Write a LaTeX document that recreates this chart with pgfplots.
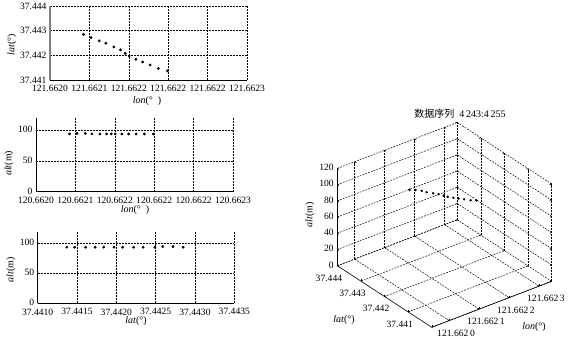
\documentclass[border=0pt]{standalone}
\usepackage{pgfplots}
\usepackage{pgfplotstable}
\pgfplotsset{compat=1.18}
\usepackage{fontspec}
\setmainfont{Liberation Serif}
\newfontfamily\cjk{Noto Sans CJK SC}

% lon: offset from 121.662 deg in 1e-5 deg; lat: offset from 37.44 deg in 1e-5 deg; alt in m
\pgfplotstableread{
lon   lat  alt
9.25  285  94
10.2  272  95
11.25 259  95
12.1  249  94
13.1  234  94
13.95 222  94
14.55 208  94
15.05 197  94
15.9  184  94
16.75 173  94
17.7  161  94
18.75 147  94
19.9  137  94
}\gpsdata

\pgfplotsset{
  panel/.style={
    scale only axis, axis lines=left,
    axis line style={-, black, line width=0.6pt},
    grid=major,
    major grid style={black, line width=0.5pt, dash pattern=on 1.8pt off 1.2pt},
    tick align=inside, major tick length=2pt, tick style={black, line width=0.5pt},
    ticklabel style={font=\fontsize{9.6}{10}\selectfont},
    xticklabel style={yshift=-1.8pt},
    /pgf/number format/assume math mode=true,
    clip=false,
  },
  dots/.style={only marks, mark=*, mark size=1.2pt, black},
}

\begin{document}
\begin{tikzpicture}
\useasboundingbox (0,0) rectangle (588pt,339pt);

% ---------- panel 1: lat vs lon ----------
\begin{axis}[panel,
  at={(50pt,259pt)}, anchor=south west, width=197pt, height=74pt,
  y axis line style={gray, line width=1.3pt},
  xmin=5, xmax=30, ymin=100, ymax=400,
  xtick={5,10,15,20,25,30},
  xticklabels={121.6620,121.6621,121.6622,121.6622,121.6622,121.6623},
  ytick={100,200,300,400},
  yticklabels={37.441,37.442,37.443,37.444},
]
\addplot[dots] table[x=lon,y=lat]{\gpsdata};
\end{axis}
\node[font=\fontsize{10}{12}\selectfont] at (147pt,237.5pt) {\textit{lon}(°\ \ )};
\node[font=\fontsize{10}{12}\selectfont, rotate=90] at (12pt,294pt) {\textit{lat}(°)};

% ---------- panel 2: alt vs lon ----------
\begin{axis}[panel,
  at={(36pt,147.3pt)}, anchor=south west, width=197pt, height=73.7pt,
  yticklabel style={yshift=0.8pt},
  xmin=5, xmax=30, ymin=0, ymax=120,
  xtick={5,10,15,20,25,30},
  xticklabels={120.6620,120.6621,120.6622,120.6622,120.6622,120.6623},
  ytick={0,50,100},
]
\addplot[dots] table[x=lon,y=alt]{\gpsdata};
\end{axis}
\node[font=\fontsize{10}{12}\selectfont] at (135pt,129pt) {\textit{lon}(°\ \ )};
\node[font=\fontsize{10}{12}\selectfont, rotate=90] at (9pt,175.7pt) {\textit{alt}(m)};

% ---------- panel 3: alt vs lat ----------
\begin{axis}[panel,
  at={(37.7pt,35.7pt)}, anchor=south west, width=196.6pt, height=71.6pt,
  yticklabel style={yshift=0.8pt},
  xmin=100, xmax=350, ymin=0, ymax=120,
  xtick={100,150,200,250,300,350},
  xticklabels={37.4410,37.4415,37.4420,37.4425,37.4430,37.4435},
  ytick={0,50,100},
]
\addplot[dots] table[x=lat,y=alt]{\gpsdata};
\end{axis}
\node[font=\fontsize{10}{12}\selectfont] at (136pt,17.5pt) {\textit{lat}(°)};
\node[font=\fontsize{10}{12}\selectfont, rotate=90] at (11pt,69pt) {\textit{alt}(m)};

% ---------- 3D panel ----------
\begin{axis}[
  at={(337.3pt,11.7pt)}, anchor=south west,
  scale only axis, width=214pt, height=205pt,
  view={-37.5}{30}, plot box ratio=151 155 112,
  xmin=-5.8, xmax=34.2, ymin=0, ymax=400, zmin=0, zmax=120,
  xtick={0,10,20,30},
  xticklabels={121.662\,0,121.662\,1,121.662\,2,121.662\,3},
  ytick={0,100,200,300,400},
  yticklabels={,37.441,37.442,37.443,37.444},
  ztick={0,20,40,60,80,100,120},
  grid=major,
  major grid style={black, line width=0.5pt, dash pattern=on 1.8pt off 1.2pt},
  axis line style={draw=none},
  tick align=inside, major tick length=2pt, tick style={black, line width=0.5pt},
  ticklabel style={font=\fontsize{9.6}{10}\selectfont},
  /pgf/number format/assume math mode=true,
  clip=false,
]
\draw[black, line width=0.6pt] (axis cs:-5.8,400,0) -- (axis cs:-5.8,400,120);
\draw[black, line width=0.6pt] (axis cs:-5.8,400,0) -- (axis cs:-5.8,0,0) -- (axis cs:34.2,0,0);
\addplot3[only marks, mark=*, mark size=1pt, black] table[x=lon,y=lat,z=alt]{\gpsdata};
\end{axis}
\node[font=\fontsize{10}{12}\selectfont] at (460pt,225.7pt) {{\cjk 数据序列}\ \ 4\,243:4\,255};
\node[font=\fontsize{10}{12}\selectfont] at (534pt,11.7pt) {\textit{lon}(°)};
\node[font=\fontsize{10}{12}\selectfont] at (344pt,19pt) {\textit{lat}(°)};
\node[font=\fontsize{10}{12}\selectfont, rotate=90] at (310pt,124pt) {\textit{alt}(m)};
\end{tikzpicture}
\end{document}
